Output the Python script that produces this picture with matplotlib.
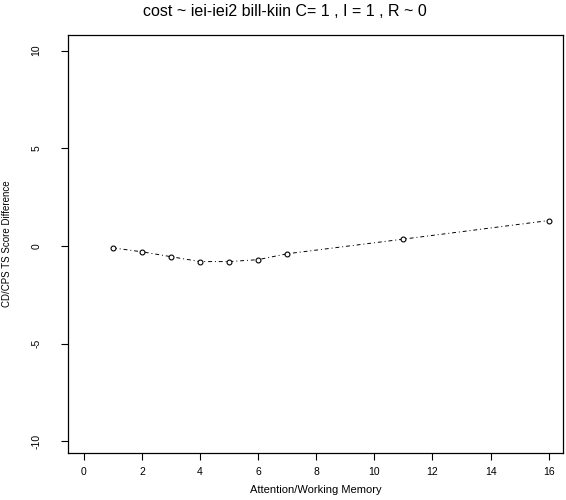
import matplotlib
matplotlib.use("Agg")
import matplotlib.pyplot as plt

x_vals = [1, 2, 3, 4, 5, 6, 7, 11, 16]
y_vals = [-0.1, -0.3, -0.55, -0.8, -0.8, -0.7, -0.4, 0.35, 1.3]
x_ticks = [0, 2, 4, 6, 8, 10, 12, 14, 16]
y_ticks = [-10, -5, 0, 5, 10]
title = "cost ~ iei-iei2 bill-kiin C= 1 , I = 1 , R ~ 0"
xlabel = "Attention/Working Memory"
ylabel = "CD/CPS TS Score Difference"

plt.rcParams['font.family'] = ['Liberation Sans', 'DejaVu Sans']
fig = plt.figure(figsize=(5.66, 5.0), dpi=100)
ax = fig.add_axes([0.120, 0.094, 0.875, 0.836])
ax.plot(x_vals, y_vals, color='black', linestyle=(0, (4, 3, 1, 3)), linewidth=0.7,
        marker='o', markersize=3.5, markerfacecolor='white', markeredgecolor='black',
        markeredgewidth=0.8)
ax.set_xlim(-0.55, 16.5)
ax.set_ylim(-10.6, 10.8)
ax.set_xticks(x_ticks)
ax.set_yticks(y_ticks)
ax.set_yticklabels([str(v) for v in y_ticks], rotation=90, va='center')
ax.tick_params(axis='both', labelsize=7.5, length=5, width=0.8, direction='out', color='black')
ax.tick_params(axis='y', pad=14)
ax.tick_params(axis='x', pad=5)
for s in ax.spines.values():
    s.set_linewidth(0.9)
fig.text(0.503, 0.978, title, ha='center', va='center', fontsize=11.5)
ax.set_xlabel(xlabel, fontsize=8, labelpad=6)
ax.set_ylabel(ylabel, fontsize=7, labelpad=14)
fig.savefig("out.png", dpi=100, facecolor='white')
